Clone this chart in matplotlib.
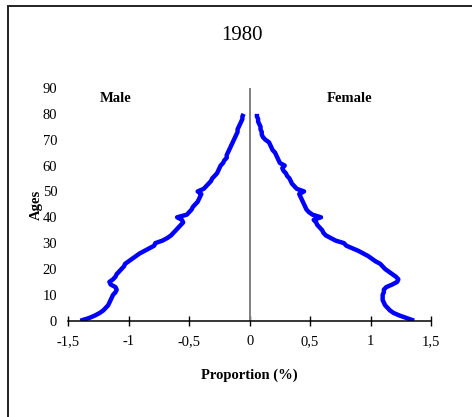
import matplotlib.pyplot as plt
from matplotlib.patches import Rectangle

# single-year ages and share of total population (%) by sex, 1980
ages = list(range(81))
male = [
    1.40, 1.33, 1.28, 1.24, 1.21, 1.19, 1.17, 1.16, 1.15, 1.14,
    1.13, 1.11, 1.10, 1.11, 1.15, 1.16, 1.13, 1.11, 1.10, 1.08,
    1.06, 1.04, 1.03, 1.00, 0.97, 0.94, 0.91, 0.87, 0.83, 0.79,
    0.78, 0.72, 0.68, 0.65, 0.63, 0.61, 0.59, 0.57, 0.55, 0.56,
    0.60, 0.52, 0.50, 0.48, 0.47, 0.45, 0.43, 0.42, 0.41, 0.40,
    0.43, 0.38, 0.36, 0.34, 0.32, 0.31, 0.29, 0.27, 0.26, 0.25,
    0.24, 0.22, 0.21, 0.19, 0.19, 0.18, 0.17, 0.16, 0.15, 0.14,
    0.13, 0.12, 0.11, 0.10, 0.10, 0.09, 0.08, 0.07, 0.06, 0.06,
    0.05,
]
female = [
    1.36, 1.30, 1.24, 1.19, 1.16, 1.14, 1.12, 1.11, 1.10, 1.10,
    1.10, 1.11, 1.11, 1.13, 1.18, 1.22, 1.23, 1.21, 1.18, 1.15,
    1.12, 1.10, 1.08, 1.04, 1.01, 0.98, 0.94, 0.90, 0.85, 0.80,
    0.78, 0.71, 0.67, 0.63, 0.61, 0.60, 0.58, 0.56, 0.55, 0.53,
    0.59, 0.52, 0.49, 0.47, 0.46, 0.45, 0.44, 0.43, 0.42, 0.41,
    0.45, 0.39, 0.37, 0.35, 0.34, 0.33, 0.31, 0.30, 0.28, 0.27,
    0.29, 0.25, 0.24, 0.23, 0.22, 0.21, 0.19, 0.18, 0.17, 0.16,
    0.13, 0.11, 0.10, 0.10, 0.09, 0.09, 0.08, 0.07, 0.07, 0.06,
    0.06,
]
x_ticks = [-1.5, -1, -0.5, 0, 0.5, 1, 1.5]
x_labels = ["-1,5", "-1", "-0,5", "0", "0,5", "1", "1,5"]
y_ticks = list(range(0, 91, 10))

plt.rcParams["font.family"] = ["Liberation Serif", "DejaVu Serif"]

fig = plt.figure(figsize=(4.72, 4.17), dpi=100)
fig.patches.append(Rectangle((8 / 472, -0.1), 1.2, (411 / 417) + 0.1,
                             transform=fig.transFigure, fill=False,
                             edgecolor="#222222", linewidth=1.4))

ax = fig.add_axes([68.3 / 472, (417 - 320.7) / 417, 362.7 / 472, 232.7 / 417])

ax.plot([-v for v in male], ages, color="#0000ff", linewidth=3.2,
        solid_capstyle="butt")
ax.plot(female, ages, color="#0000ff", linewidth=3.2, solid_capstyle="butt")
ax.plot([0, 0], [0, 90], color="#808080", linewidth=1.4)

ax.set_xlim(-1.5, 1.5)
ax.set_ylim(0, 90)
for side in ["top", "right", "left"]:
    ax.spines[side].set_visible(False)
ax.spines["bottom"].set_linewidth(1.1)

ax.set_xticks(x_ticks)
ax.set_xticklabels(x_labels, fontsize=10.5)
ax.set_yticks(y_ticks)
ax.tick_params(axis="x", direction="inout", length=7, width=1, pad=7)
ax.tick_params(axis="y", length=0, pad=8, labelsize=10.5)

ax.set_xlabel("Proportion (%)", fontsize=10.5, fontweight="bold")
ax.xaxis.set_label_coords(0.498, -0.205)
ax.set_ylabel("Ages", fontsize=10.5, fontweight="bold", va="center")
ax.yaxis.set_label_coords(-0.089, 0.497)

fig.text(242 / 472, 1 - 36 / 417, "1980", ha="center", va="center", fontsize=15)
fig.text(116 / 472, 1 - 99 / 417, "Male", ha="center", va="center",
         fontsize=10.5, fontweight="bold")
fig.text(350 / 472, 1 - 99 / 417, "Female", ha="center", va="center",
         fontsize=10.5, fontweight="bold")

fig.savefig("out.png", dpi=100)
